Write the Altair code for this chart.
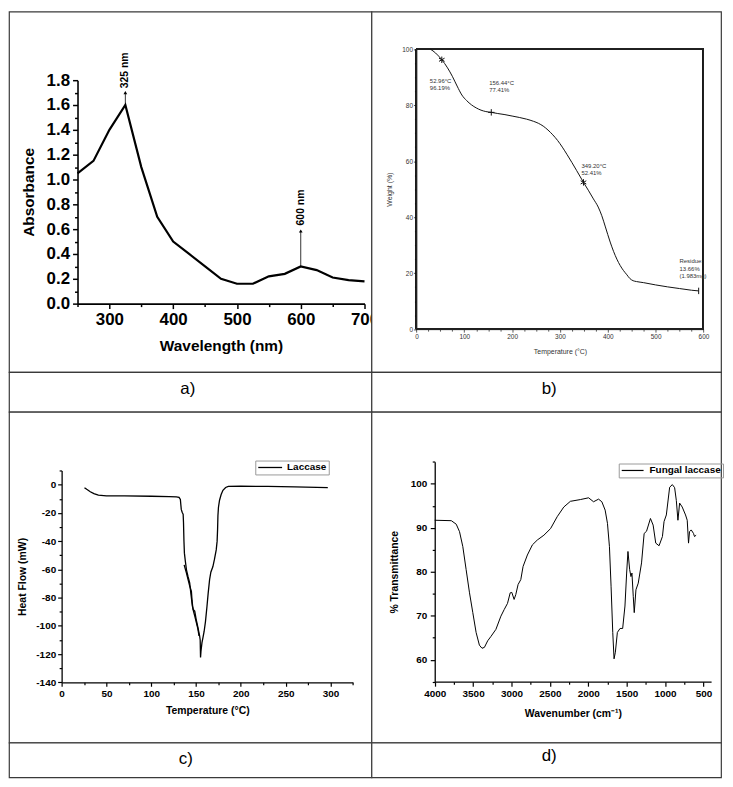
import altair as alt
import pandas as pd

FONT = "Liberation Sans"

# ---------------- data ----------------
# a) UV-vis spectrum
uv_wavelength = [250, 275, 300, 325, 350, 375, 400, 425, 450, 475, 500, 525, 550, 575, 600, 625, 650, 675, 700]
uv_absorbance = [1.05, 1.15, 1.40, 1.60, 1.10, 0.70, 0.50, 0.40, 0.30, 0.20, 0.16, 0.16, 0.22, 0.24, 0.30, 0.27, 0.21, 0.19, 0.18]
uv_peak_nm = [325, 600]
uv_peak_abs = [1.60, 0.30]
uv_arrow_top = [1.70, 0.585]
uv_label_at = [1.735, 0.63]
uv_peak_labels = ["325 nm", "600 nm"]

# b) TGA curve
tga_temp = [29, 40, 53, 65, 75, 85, 95, 105, 115, 125, 135, 145, 156.44, 170, 185, 200, 215, 230, 245, 255,
            265, 275, 285, 295, 305, 315, 325, 335, 349.2, 360, 370, 380, 387.5, 395, 405, 412, 419, 426,
            432.5, 440, 446, 453, 460, 475, 500, 525, 550, 575, 590]
tga_weight = [100, 98.6, 96.19, 93.3, 90.3, 86.8, 83.6, 81.6, 80.1, 79.0, 78.2, 77.7, 77.41, 77.0, 76.6, 76.1,
              75.6, 75.0, 74.2, 73.5, 72.5, 71.1, 69.4, 67.4, 65.0, 62.3, 59.5, 56.6, 52.41, 49.4, 46.5, 43.6,
              40.5, 36.5, 31.1, 27.8, 25.0, 22.7, 21.0, 19.4, 18.1, 17.3, 17.0, 16.6, 15.8, 15.1, 14.5, 13.9, 13.66]
tga_mark_temp = [52.96, 156.44, 349.20, 590]
tga_mark_weight = [96.19, 77.41, 52.41, 13.66]
tga_mark_kind = ["asterisk", "plus", "asterisk", "bar"]
tga_note_temp = [28, 152, 345, 550]
tga_note_weight = [89.6, 89.0, 59.4, 25.3]
tga_note_text = ["52.96°C\n96.19%", "156.44°C\n77.41%", "349.20°C\n52.41%", "Residue:\n13.66%\n(1.983mg)"]

# c) DSC curve
dsc_temp = [25.5, 28, 32, 36, 41, 50, 70, 100, 120, 128, 131, 132.5, 133, 133.5, 134.5, 135.6, 136, 136.5, 137,
            138, 139.3, 141, 142.9, 144, 145.9, 147, 148.5, 150, 152, 154, 154.6, 155.0, 155.5, 156.6, 157.7,
            159, 160.5, 162.2, 163.5, 165.1, 166.5, 168.8, 170.5, 172.5, 173.5, 174, 174.4, 175, 176.2, 178,
            180, 183, 186, 200, 230, 260, 297]
dsc_heat = [-2.1, -3.3, -5.0, -6.3, -7.4, -7.9, -8.0, -8.2, -8.4, -8.6, -9.0, -10.5, -14, -17.5, -19.5, -21,
            -27, -40, -48.5, -54, -60.3, -65, -69.6, -76, -86.1, -88.5, -89.6, -95, -101, -107.2, -110, -122.4,
            -118, -111.9, -108.3, -104, -97, -86.1, -77, -67.3, -62, -58, -53, -46.2, -40, -32, -22, -16, -11,
            -7, -4, -2, -1.2, -1.1, -1.2, -1.6, -2.1]
dsc2_temp = [136.7, 139, 141.1, 143, 144.8, 145.5, 146.6, 148.5, 150.4, 152, 153.3]
dsc2_heat = [-56.8, -62, -67.3, -72, -75.5, -82, -88.4, -93, -97.8, -102, -107.2]

# d) FTIR spectrum
ftir_wavenumber = [4000, 3784, 3720, 3677, 3634, 3591, 3547, 3504, 3461, 3418, 3384, 3353, 3310, 3267, 3203,
                   3138, 3095, 3052, 3017, 2996, 2966, 2944, 2914, 2879, 2849, 2793, 2728, 2664, 2578, 2491,
                   2405, 2319, 2233, 2103, 1996, 1931, 1866, 1823, 1780, 1750, 1724, 1703, 1681, 1664, 1647,
                   1621, 1586, 1552, 1522, 1500, 1483, 1461, 1444, 1431, 1414, 1401, 1379, 1349, 1306, 1272,
                   1241, 1190, 1155, 1121, 1078, 1034, 1013, 983, 940, 905, 875, 853, 832, 810, 776, 733, 711,
                   694, 681, 659, 629, 616, 595]
ftir_transmittance = [91.7, 91.6, 90.8, 89.1, 85.7, 80.5, 75.2, 70.7, 66.2, 63.3, 62.6, 62.8, 64.3, 65.3, 66.9,
                      69.9, 71.4, 72.8, 75.2, 75.3, 73.7, 74.8, 77.1, 78.2, 81.2, 83.8, 86.1, 87.2, 88.3, 89.8,
                      92.5, 94.7, 96.0, 96.4, 96.8, 95.9, 96.5, 95.9, 94.0, 91.0, 85.7, 76.7, 66.2, 60.2, 61.7,
                      66.2, 67.1, 67.1, 72.2, 79.7, 84.6, 80.5, 78.9, 79.7, 74.4, 70.7, 75.9, 77.4, 82.0, 88.7,
                      89.2, 92.1, 90.6, 86.5, 85.9, 88.0, 91.4, 92.9, 99.2, 99.8, 99.1, 96.2, 91.7, 95.6, 94.7,
                      92.9, 91.7, 86.5, 89.1, 89.5, 88.7, 88.0, 88.3]

panel_labels = ["a)", "b)", "c)", "d)"]

# ---------------- layout (cell sizes) ----------------
W1, W2 = 365, 352
H1, HL, H2, HL2 = 363, 40, 333, 35


def tick_axis(values, major_test, offset, major=5, minor=3, use_label=False, **kw):
    lab = "datum.label" if use_label else "'' + datum.value"
    return alt.Axis(values=values, labelExpr=f"({major_test}) ? {lab} : ''",
                    tickSize={"condition": {"test": major_test, "value": major}, "value": minor},
                    offset=offset, grid=False, labelOverlap=False, labelFlush=False, **kw)


bold_a = dict(labelFont=FONT, labelFontSize=17, labelFontWeight="bold", labelColor="black",
              titleFont=FONT, titleFontSize=15.5, titleFontWeight="bold", titleColor="black",
              domainColor="black", domainWidth=1.6, tickColor="black", tickWidth=1.5)

# ---------------- panel a ----------------
df_a = pd.DataFrame({"wl": uv_wavelength, "ab": uv_absorbance})
df_a_pk = pd.DataFrame({"wl": uv_peak_nm, "y0": uv_peak_abs, "y1": uv_arrow_top,
                        "yt": uv_label_at, "lab": uv_peak_labels})
sxA = alt.Scale(domain=[250, 700], range=[69, 358], nice=False, zero=False)
syA = alt.Scale(domain=[0, 1.8], range=[294, 69], nice=False, zero=False)
axA_x = tick_axis(list(range(250, 701, 50)), "datum.value % 100 == 0", -(H1 - 294), major=5, minor=3,
                  labelPadding=3, titlePadding=11, **bold_a)
axA_y = tick_axis([round(i * 0.1, 1) for i in range(19)], "round(datum.value*10) % 2 == 0", -69,
                  major=5, minor=3, use_label=True, format=".1f", labelPadding=3, titlePadding=10, **bold_a)


def XA(f):
    return alt.X(f, type="quantitative", scale=sxA, axis=axA_x, title="Wavelength (nm)")


def YA(f):
    return alt.Y(f, type="quantitative", scale=syA, axis=axA_y, title="Absorbance")


line_a = alt.Chart(df_a).mark_line(color="black", strokeWidth=2.2).encode(x=XA("wl"), y=YA("ab"))
rule_a = alt.Chart(df_a_pk).mark_rule(color="black", strokeWidth=0.8).encode(x=XA("wl"), y=YA("y0"), y2="y1")
head_a = alt.Chart(df_a_pk).mark_point(shape="triangle-up", filled=True, size=14, color="black", opacity=1).encode(
    x=XA("wl"), y=YA("y1"))
text_a = alt.Chart(df_a_pk).mark_text(angle=270, align="left", baseline="middle", font=FONT, fontSize=10.5,
                                      fontWeight="bold", color="black").encode(x=XA("wl"), y=YA("yt"), text="lab")
panel_a = alt.layer(line_a, rule_a, head_a, text_a).properties(width=W1, height=H1)

# ---------------- panel b ----------------
df_b = pd.DataFrame({"T": tga_temp, "W": tga_weight})
df_b_mk = pd.DataFrame({"T": tga_mark_temp, "W": tga_mark_weight, "kind": tga_mark_kind})
df_b_nt = pd.DataFrame({"T": tga_note_temp, "W": tga_note_weight, "txt": tga_note_text})
sxB = alt.Scale(domain=[0, 600], range=[45.3, 334.3], nice=False, zero=False)
syB = alt.Scale(domain=[0, 100], range=[319.7, 37.7], nice=False, zero=False)
thin_b = dict(labelFont=FONT, labelFontSize=6.5, labelColor="#333", titleFont=FONT, titleFontSize=7,
              titleFontWeight="normal", titleColor="#333", domainColor="#222", domainWidth=0.8,
              tickColor="#333", tickWidth=0.8)
axB_x = tick_axis(list(range(0, 601, 25)), "datum.value % 100 == 0", -(H1 - 319.7), major=3, minor=2,
                  labelPadding=1.5, titlePadding=8, **thin_b)
axB_y = tick_axis(list(range(0, 101, 5)), "datum.value % 20 == 0", -45.3, major=3, minor=2,
                  labelPadding=1, titlePadding=9, **thin_b)


def XB(f):
    return alt.X(f, type="quantitative", scale=sxB, axis=axB_x, title="Temperature (°C)")


def YB(f):
    return alt.Y(f, type="quantitative", scale=syB, axis=axB_y, title="Weight (%)")


frame_b = alt.Chart(df_b).mark_rect(filled=False, color="#222", strokeWidth=0.9).encode(
    x=alt.datum(0, scale=sxB, axis=axB_x, title="Temperature (°C)"), x2=alt.datum(600),
    y=alt.datum(0, scale=syB, axis=axB_y, title="Weight (%)"), y2=alt.datum(100))
line_b = alt.Chart(df_b).mark_line(color="#111", strokeWidth=1, interpolate="monotone").encode(
    x=XB("T"), y=YB("W"))
shape_paths = ["M0,-1L0,1M-0.87,-0.5L0.87,0.5M-0.87,0.5L0.87,-0.5", "M-1,0L1,0M0,-1L0,1", "M0,-1L0,1"]
mark_b = alt.Chart(df_b_mk).mark_point(filled=False, color="#111", strokeWidth=1, opacity=1).encode(
    x=XB("T"), y=YB("W"),
    shape=alt.Shape("kind:N", scale=alt.Scale(domain=["asterisk", "plus", "bar"], range=shape_paths), legend=None),
    size=alt.value(42))
note_b = alt.Chart(df_b_nt).mark_text(align="left", baseline="top", lineBreak="\n", lineHeight=7.3, font=FONT,
                                      fontSize=6, color="#333").encode(x=XB("T"), y=YB("W"), text="txt")
panel_b = alt.layer(frame_b, line_b, mark_b, note_b).properties(width=W2, height=H1)

# ---------------- panel c ----------------
bold_cd = dict(labelFont=FONT, labelFontSize=10, labelFontWeight="bold", labelColor="black",
               titleFont=FONT, titleFontSize=10.5, titleFontWeight="bold", titleColor="black",
               domainColor="black", domainWidth=1.3, tickColor="black", tickWidth=1.2)
df_c = pd.DataFrame({
    "T": dsc_temp + dsc2_temp,
    "H": dsc_heat + dsc2_heat,
    "seg": ["main"] * len(dsc_temp) + ["loop"] * len(dsc2_temp),
    "i": list(range(len(dsc_temp))) + list(range(len(dsc2_temp))),
    "series": ["Laccase"] * (len(dsc_temp) + len(dsc2_temp)),
})
sxC = alt.Scale(domain=[0, 325], range=[53, 346.3], nice=False, zero=False)
syC = alt.Scale(domain=[-140, 10], range=[272.3, 59.1], nice=False, zero=False)
axC_x = tick_axis(list(range(0, 326, 25)), "datum.value % 50 == 0", -(H2 - 272.3), major=4, minor=2.5,
                  labelPadding=2, titlePadding=7, **bold_cd)
axC_y = tick_axis(list(range(-140, 11, 10)), "datum.value % 20 == 0", -53, major=4, minor=2.5,
                  labelPadding=2, titlePadding=8, **bold_cd)
line_c = alt.Chart(df_c).mark_line(strokeWidth=1.3).encode(
    x=alt.X("T:Q", scale=sxC, axis=axC_x, title="Temperature (°C)"),
    y=alt.Y("H:Q", scale=syC, axis=axC_y, title="Heat Flow (mW)"),
    detail="seg:N", order="i:Q",
    color=alt.Color("series:N", scale=alt.Scale(range=["black"]),
                    legend=alt.Legend(title=None, orient="none", legendX=248, legendY=49, strokeColor="#999",
                                      padding=2, symbolType="M-1,0L5,0", symbolSize=64, symbolStrokeWidth=1.3,
                                      labelFont=FONT, labelFontSize=10, labelFontWeight="bold",
                                      labelColor="black", labelOffset=20)))
panel_c = line_c.properties(width=W1, height=H2)

# ---------------- panel d ----------------
df_d = pd.DataFrame({"wn": ftir_wavenumber, "tr": ftir_transmittance,
                     "i": list(range(len(ftir_wavenumber))),
                     "series": ["Fungal laccase"] * len(ftir_wavenumber)})
sxD = alt.Scale(domain=[400, 4000], range=[342, 63.7], nice=False, zero=False)
syD = alt.Scale(domain=[55, 105], range=[271.7, 50.2], nice=False, zero=False)
axD_x = tick_axis(list(range(500, 4001, 250)), "datum.value % 500 == 0", -(H2 - 271.7), major=4.5, minor=2.5,
                  labelPadding=2, titlePadding=11, **bold_cd)
axD_y = tick_axis(list(range(55, 106, 5)), "datum.value % 10 == 0", -63.7, major=4.5, minor=2.5,
                  labelPadding=3.5, titlePadding=11, **bold_cd)
line_d = alt.Chart(df_d).mark_line(strokeWidth=1).encode(
    x=alt.X("wn:Q", scale=sxD, axis=axD_x, title="Wavenumber (cm⁻¹)"),
    y=alt.Y("tr:Q", scale=syD, axis=axD_y, title="% Transmittance"),
    order="i:Q",
    color=alt.Color("series:N", scale=alt.Scale(range=["black"]),
                    legend=alt.Legend(title=None, orient="none", legendX=249, legendY=52, strokeColor="#999",
                                      padding=2, symbolType="M-1,0L4.5,0", symbolSize=64, symbolStrokeWidth=1.2,
                                      labelFont=FONT, labelFontSize=10, labelFontWeight="bold",
                                      labelColor="black", labelOffset=19)))
panel_d = line_d.properties(width=W2, height=H2)


# ---------------- caption cells ----------------
def caption(txt, w, h, cx, cy):
    return alt.Chart(pd.DataFrame({"t": [txt]})).mark_text(font=FONT, fontSize=17, color="black",
                                                            baseline="middle").encode(
        text="t:N", x=alt.value(cx), y=alt.value(cy)).properties(width=w, height=h)


chart = alt.concat(
    panel_a, panel_b,
    caption(panel_labels[0], W1, HL, 180, 17), caption(panel_labels[1], W2, HL, 179, 17),
    panel_c, panel_d,
    caption(panel_labels[2], W1, HL2, 178, 17), caption(panel_labels[3], W2, HL2, 179, 14),
    columns=2, spacing=0, bounds="flush",
).resolve_scale(color="independent", shape="independent").resolve_legend(
    color="independent", shape="independent"
).properties(padding=0, background="white").configure_view(stroke="#3a3a3a", strokeWidth=1.2, fill="white")

chart.save("out.html", embed_options={"renderer": "svg", "actions": False})
